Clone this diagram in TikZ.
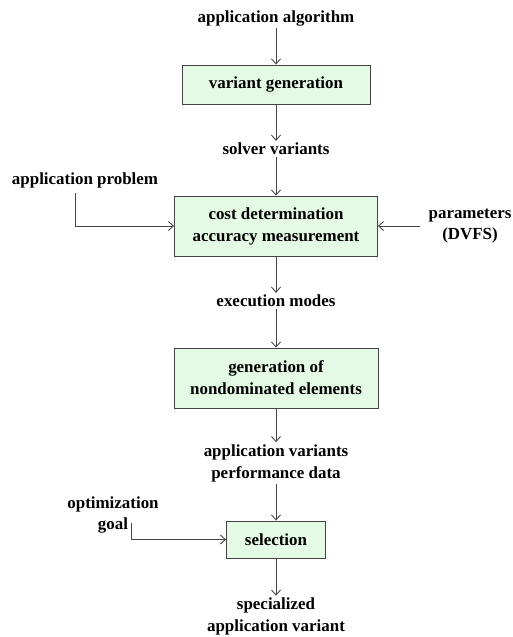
\documentclass[tikz,border=0pt]{standalone}
\usepackage{fontspec}
\setmainfont{Liberation Serif}
\usetikzlibrary{arrows.meta,positioning}
\definecolor{boxgreen}{RGB}{228,250,228}
\definecolor{linegray}{RGB}{68,68,68}

\begin{document}
\begin{tikzpicture}
		[   x=1bp,y=-1bp,
			font=\fontsize{17}{22}\selectfont\bfseries,
			bnode/.style={draw=linegray,line width=0.9bp,fill=boxgreen,minimum width=#1,minimum height=39bp,align=center},
			tnode/.style={align=center,inner sep=2bp},
		]
		\tikzset{normal arrow/.style={draw=linegray,line width=0.9bp,-{Straight Barb[length=5bp,width=9bp]}}}
		\useasboundingbox (0,0) rectangle (513,637);
		
		\node[tnode] (alg) at (276,18) {application algorithm};
		\node[bnode=188bp] (vargen) at (276,84.5) {variant generation};
		\node[tnode] (solv) at (276,149) {solver variants};
		\node[bnode=203bp,minimum height=60bp] (cost) at (276,226) {cost determination\\accuracy measurement};
		\node[tnode] (modes) at (276,301) {execution modes};
		\node[bnode=204bp,minimum height=60bp] (nondom) at (276,378) {generation of\\nondominated elements};
		\node[tnode] (perf) at (276,463) {application variants\\performance data};
		\node[bnode=99bp,minimum height=37bp] (sel) at (276,539.5) {selection};
		\node[tnode] (spec) at (276,616.5) {specialized\\application variant};
		
		% side inputs
		\node[tnode] (prob) at (85,180) {application problem};
		\node[tnode,inner xsep=8bp] (param) at (470,226) {parameters\\(DVFS)};
		\node[tnode] (goal) at (113,515) {optimization\\goal};
		\coordinate (probin) at (75,193);
		\coordinate (goalin) at (131,523);
		
		\foreach \a/\b in {alg/vargen,vargen/solv,solv/cost,cost/modes,modes/nondom,nondom/perf,perf/sel,sel/spec}
		{
			\path[normal arrow] (\a) -- (\b);
		}
		\path[normal arrow] (probin) |- (cost);
		\path[normal arrow] (param) -- (cost);
		\path[normal arrow] (goalin) |- (sel);
\end{tikzpicture}
\end{document}
